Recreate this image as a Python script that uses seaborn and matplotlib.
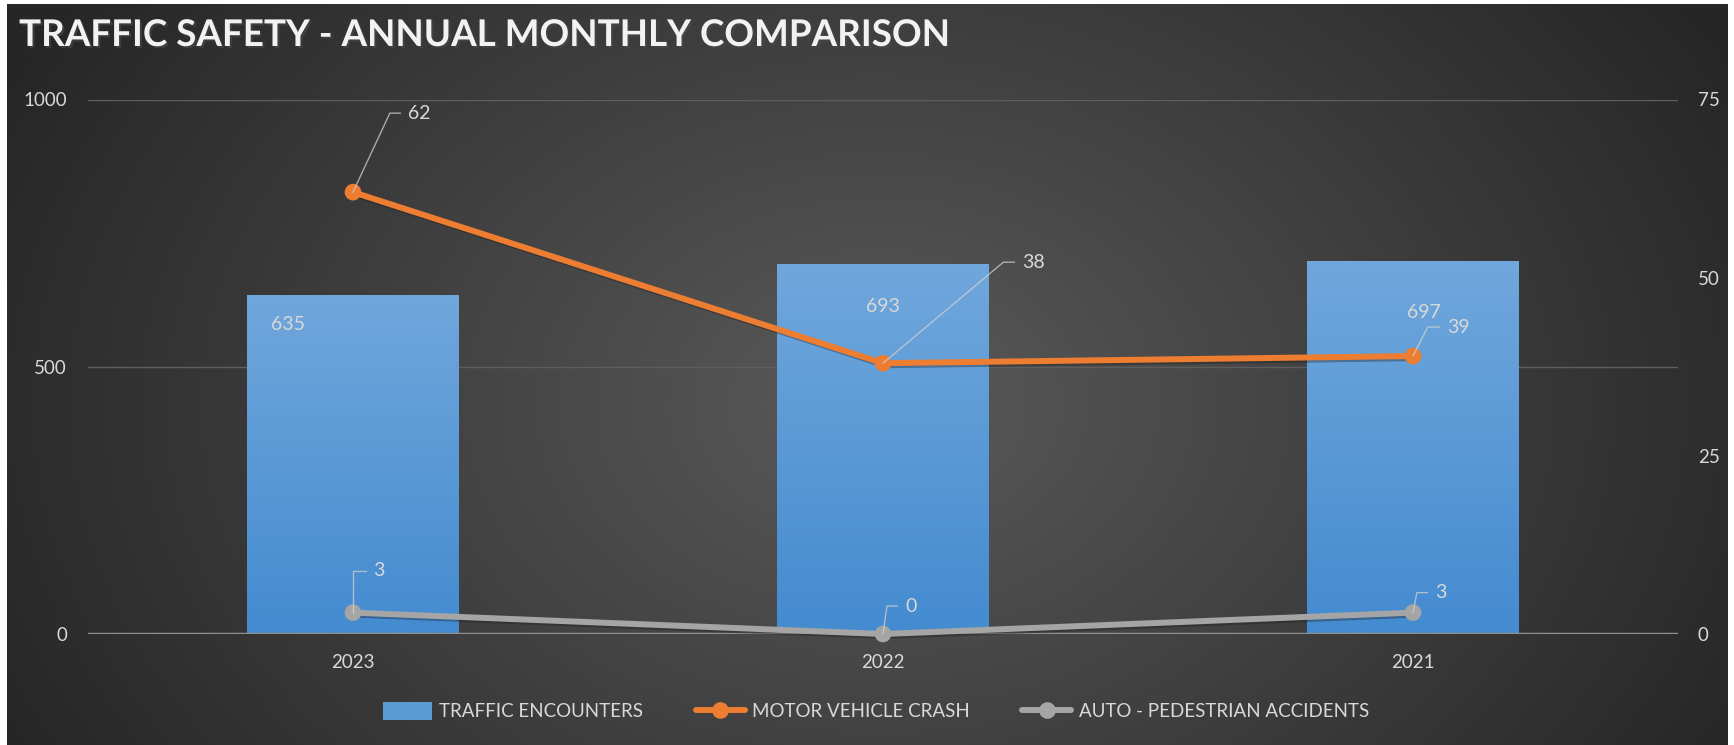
import numpy as np
import pandas as pd
import seaborn as sns
import matplotlib.pyplot as plt
from matplotlib.patches import Patch
from matplotlib.lines import Line2D
import matplotlib.patheffects as pe

# data
years = ["2023", "2022", "2021"]
encounters = [635, 693, 697]
crashes = [62, 38, 39]
pedestrian = [3, 0, 3]

# label offsets (pixels) as placed in the original
bar_label_offsets = [(-65, -30), (0, -43), (11, -51)]
crash_label_offsets = [(55, 79, 65), (139, 101, 40), (34, 29, 63)]
ped_label_offsets = [(20, 42, 90), (22, 28, 82), (22, 20, 79)]

W, H, DPI = 1734, 745, 100
px = 72 / DPI

sns.set_theme(style="dark")
plt.rcParams["font.family"] = ["Lato", "DejaVu Sans"]

fig = plt.figure(figsize=(W / DPI, H / DPI), dpi=DPI, facecolor="white")

# dark radial background
bg = fig.add_axes([7 / W, 0, 1721 / W, 741 / H])
yy, xx = np.mgrid[0:741, 0:1721]
r = np.sqrt(((xx - 870) / 980) ** 2 + ((yy - 400) / 720) ** 2)
r = np.clip(r, 0, 1)
c0, c1 = np.array([0x5a, 0x5a, 0x5a]) / 255, np.array([0x26, 0x26, 0x26]) / 255
img = c0[None, None, :] * (1 - r[..., None]) + c1[None, None, :] * r[..., None]
bg.imshow(img, aspect="auto", interpolation="bilinear")
bg.set_axis_off()

df = pd.DataFrame({"year": years, "encounters": encounters,
                   "crash": crashes, "ped": pedestrian})
df["pos"] = np.arange(len(df))

ax = fig.add_axes([88 / W, 1 - 634 / H, 1590 / W, 534.5 / H])
ax.patch.set_alpha(0)
sns.barplot(data=df, x="year", y="encounters", ax=ax, width=0.4,
            color="#5B9BD5", saturation=1, zorder=2)
ax.set_xlim(-0.5, 2.5)
ax.set_ylim(0, 1000)
ax.set_yticks([0, 500, 1000])
ax.set_xlabel("")
ax.set_ylabel("")
for s in ax.spines.values():
    s.set_visible(False)
ax.grid(axis="y", color="#5e5e5e", lw=1, zorder=0)
ax.grid(axis="x", visible=False)
ax.tick_params(axis="y", length=0, pad=21 * px, labelsize=13.5, labelcolor="#d9d9d9")
ax.tick_params(axis="x", length=0, pad=20 * px, labelsize=13.5, labelcolor="#d9d9d9")

# gradient fill for the bars
grad = np.linspace(0, 1, 256)[:, None]
top_c = np.array([0x70, 0xa7, 0xdc]) / 255
bot_c = np.array([0x44, 0x8b, 0xd0]) / 255
gimg = top_c[None, None, :] * (1 - grad[..., None]) + bot_c[None, None, :] * grad[..., None]
for bar in ax.patches:
    x0, w, h = bar.get_x(), bar.get_width(), bar.get_height()
    bar.set_facecolor("none")
    bar.set_edgecolor("none")
    im = ax.imshow(gimg, extent=[x0, x0 + w, 0, h], aspect="auto", zorder=2)
    im.set_clip_path(bar)
ax.set_xlim(-0.5, 2.5)
ax.set_ylim(0, 1000)
ax.axhline(0, color="#8f8f8f", lw=2.5, zorder=3)

for i, v in enumerate(encounters):
    dx, dy = bar_label_offsets[i]
    ax.annotate(str(v), (i, v), xytext=(dx * px, dy * px), textcoords="offset points",
                ha="center", va="center", fontsize=14, color="#d9d9d9", zorder=4)

# secondary axis with the two line series
ax2 = ax.twinx()
shadow = [pe.SimpleLineShadow(offset=(1.5, -1.5), alpha=0.35), pe.Normal()]
sns.lineplot(data=df, x="pos", y="crash", ax=ax2, color="#ED7D31", lw=4.3,
             marker="o", markersize=12, markeredgewidth=0, zorder=5,
             path_effects=shadow, clip_on=False)
sns.lineplot(data=df, x="pos", y="ped", ax=ax2, color="#A5A5A5", lw=4.3,
             marker="o", markersize=12, markeredgewidth=0, zorder=5,
             path_effects=shadow, clip_on=False)
ax2.set_ylim(0, 75)
ax2.set_xlim(-0.5, 2.5)
ax2.set_yticks([0, 25, 50, 75])
ax2.set_xlabel("")
ax2.set_ylabel("")
ax2.grid(False)
for s in ax2.spines.values():
    s.set_visible(False)
ax2.tick_params(axis="y", length=0, pad=20 * px, labelsize=13.5, labelcolor="#d9d9d9")


def leader_labels(values, offsets):
    for i, v in enumerate(values):
        dx, dy, ang = offsets[i]
        ax2.annotate(str(v), (i, v), xytext=(dx * px, dy * px), textcoords="offset points",
                     ha="left", va="center", fontsize=14, color="#d9d9d9", zorder=6,
                     arrowprops=dict(arrowstyle="-", color="#d0d0d0", alpha=0.75, lw=1,
                                     relpos=(0, 0.5), shrinkA=3, shrinkB=0,
                                     connectionstyle=f"angle,angleA=180,angleB={ang},rad=0"))


leader_labels(crashes, crash_label_offsets)
leader_labels(pedestrian, ped_label_offsets)

# title
fig.text(19 / W, 1 - 46 / H, "TRAFFIC SAFETY - ANNUAL MONTHLY COMPARISON",
         ha="left", va="baseline", fontsize=26.5, fontweight="bold", color="#f2f2f2",
         path_effects=[pe.withSimplePatchShadow(offset=(1.5, -1.5), alpha=0.6)])

# legend
handles = [
    Patch(facecolor="#5B9BD5", edgecolor="none"),
    Line2D([], [], color="#ED7D31", lw=4.3, marker="o", markersize=12, markeredgewidth=0),
    Line2D([], [], color="#A5A5A5", lw=4.3, marker="o", markersize=12, markeredgewidth=0),
]
labels = ["TRAFFIC ENCOUNTERS", "MOTOR VEHICLE CRASH", "AUTO - PEDESTRIAN ACCIDENTS"]
fig.legend(handles, labels, loc="center", bbox_to_anchor=(876 / W, 1 - 711 / H),
           ncol=3, frameon=False, fontsize=13.5, labelcolor="#d9d9d9",
           handlelength=2.6, handleheight=1.1, handletextpad=0.4, columnspacing=2.8)

fig.savefig("out.png", dpi=DPI, facecolor=fig.get_facecolor())
